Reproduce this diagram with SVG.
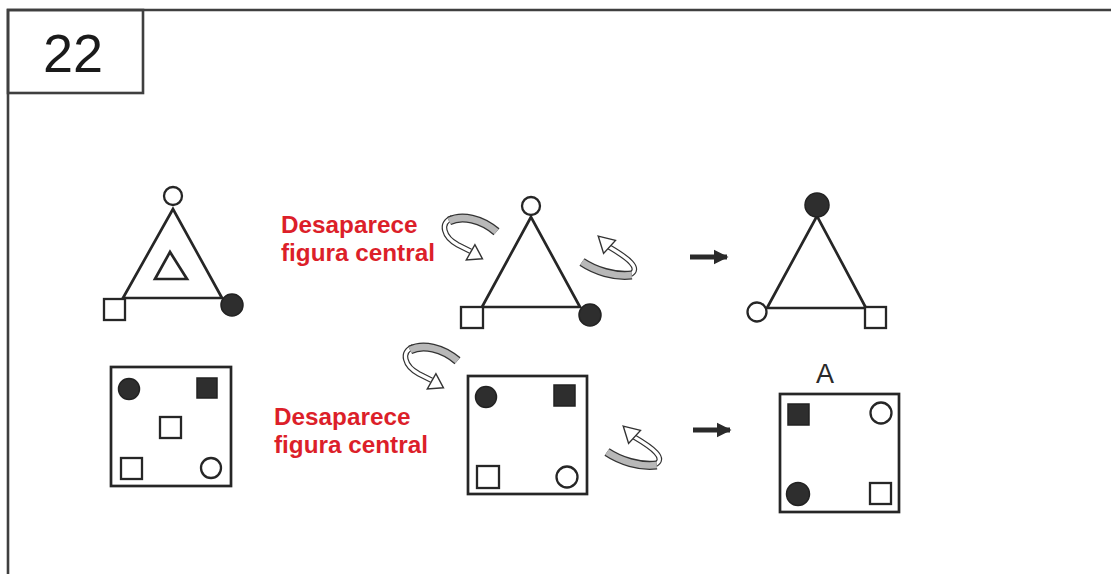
<svg xmlns="http://www.w3.org/2000/svg" width="1111" height="574" viewBox="0 0 1111 574">
<style>
.ln{fill:none;stroke:#262626;stroke-width:2.7}
.ho{fill:#fff;stroke:#262626;stroke-width:2.3}
.fi{fill:#2e2e2e;stroke:#222;stroke-width:1.5}
.lbl{font-family:"Liberation Sans",Arial,sans-serif;font-weight:bold;font-size:24.3px;fill:#dc1f2a}
.frame{fill:none;stroke:#3f3f3f;stroke-width:2.6}
.bandO{fill:none;stroke:#333;stroke-width:8.5}
.bandI{fill:none;stroke:#b8b8b8;stroke-width:6}
.curlO{fill:none;stroke:#333;stroke-width:5.2}
.curlI{fill:none;stroke:#fff;stroke-width:3}
.head{fill:#fff;stroke:#333;stroke-width:1.3;stroke-linejoin:miter}
</style>
<defs>
<g id="rotA">
<path class="curlO" d="M3 -3 C-9 2 -5 15 8 22 L20 28"/>
<path class="curlI" d="M3 -3 C-9 2 -5 15 8 22 L20 28"/>
<polygon class="head" points="31,35 16,36 24,22"/>
<path class="bandO" d="M0 0 C12 -6 30 -2 44 10"/>
<path class="bandI" d="M0 0 C12 -6 30 -2 44 10"/>
</g>
<g id="rotB">
<path class="curlO" d="M44 12 C56 6 42 -4 25 -14"/>
<path class="curlI" d="M44 12 C56 6 42 -4 25 -14"/>
<polygon class="head" points="15,-24 31,-20 20,-8"/>
<path class="bandO" d="M0 0 C12 8 30 14 46 12"/>
<path class="bandI" d="M0 0 C12 8 30 14 46 12"/>
</g>
<marker id="ah" viewBox="0 0 10 10" refX="9" refY="5" markerWidth="3" markerHeight="3.2" orient="auto">
<path d="M0 0 L10 5 L0 10 z" fill="#2a2a2a"/>
</marker>
</defs>
<rect width="1111" height="574" fill="#fff"/>

<g id="frame">
<path class="frame" d="M8 574 V10 H1111"/>
<rect x="8" y="10" width="135" height="83" class="frame"/>
<text x="73" y="72" text-anchor="middle" font-family="Liberation Sans,Arial,sans-serif" font-size="54" fill="#1a1a1a">22</text>
</g>

<g id="tri1">
<polygon class="ln" points="173,209 123,298 222,298"/>
<polygon class="ln" points="155,279 170,252 187,279"/>
<circle class="ho" cx="173" cy="196" r="9"/>
<rect class="ho" x="104" y="299" width="21" height="21"/>
<circle class="fi" cx="232" cy="305" r="11"/>
</g>

<g id="label1">
<text class="lbl" x="281" y="233">Desaparece</text>
<text class="lbl" x="281" y="261">figura central</text>
</g>

<g id="tri2">
<polygon class="ln" points="531,217 482,307 580,307"/>
<circle class="ho" cx="531" cy="206" r="9"/>
<rect class="ho" x="461" y="307" width="22" height="21"/>
<circle class="fi" cx="590" cy="315" r="11"/>
</g>

<g id="tri3">
<polygon class="ln" points="817,216 767,308 866,308"/>
<circle class="fi" cx="817" cy="205" r="12"/>
<circle class="ho" cx="757" cy="312" r="9.5"/>
<rect class="ho" x="865" y="307" width="21" height="21"/>
</g>

<g id="sq1">
<rect class="ln" x="111" y="367" width="120" height="119"/>
<circle class="fi" cx="129" cy="389" r="10.5"/>
<rect class="fi" x="197" y="378" width="20" height="20"/>
<rect class="ho" x="160" y="417" width="21" height="21"/>
<rect class="ho" x="121" y="458" width="21" height="21"/>
<circle class="ho" cx="211" cy="468" r="10"/>
</g>

<g id="label2">
<text class="lbl" x="274" y="425">Desaparece</text>
<text class="lbl" x="274" y="453">figura central</text>
</g>

<g id="sq2">
<rect class="ln" x="468" y="376" width="119" height="118"/>
<circle class="fi" cx="486" cy="397" r="10.5"/>
<rect class="fi" x="554" y="385" width="21" height="21"/>
<rect class="ho" x="477" y="466" width="22" height="22"/>
<circle class="ho" cx="567" cy="477" r="10.5"/>
</g>

<g id="sqA">
<text x="825" y="383" text-anchor="middle" font-family="Liberation Sans,Arial,sans-serif" font-size="27" fill="#2a2a2a">A</text>
<rect class="ln" x="780" y="394" width="119" height="118"/>
<rect class="fi" x="788" y="404" width="21" height="21"/>
<circle class="ho" cx="881" cy="413" r="10.5"/>
<circle class="fi" cx="798" cy="494" r="11.5"/>
<rect class="ho" x="870" y="483" width="21" height="21"/>
</g>

<g id="connectors">
<use href="#rotA" transform="translate(449,221) scale(1.08)"/>
<use href="#rotB" transform="translate(582,262) scale(1.08)"/>
<use href="#rotA" transform="translate(410,350) scale(1.08)"/>
<use href="#rotB" transform="translate(607,452) scale(1.08)"/>
<line x1="690" y1="257" x2="727" y2="257" stroke="#2a2a2a" stroke-width="5" marker-end="url(#ah)"/>
<line x1="693" y1="430" x2="730" y2="430" stroke="#2a2a2a" stroke-width="5" marker-end="url(#ah)"/>
</g>
</svg>
